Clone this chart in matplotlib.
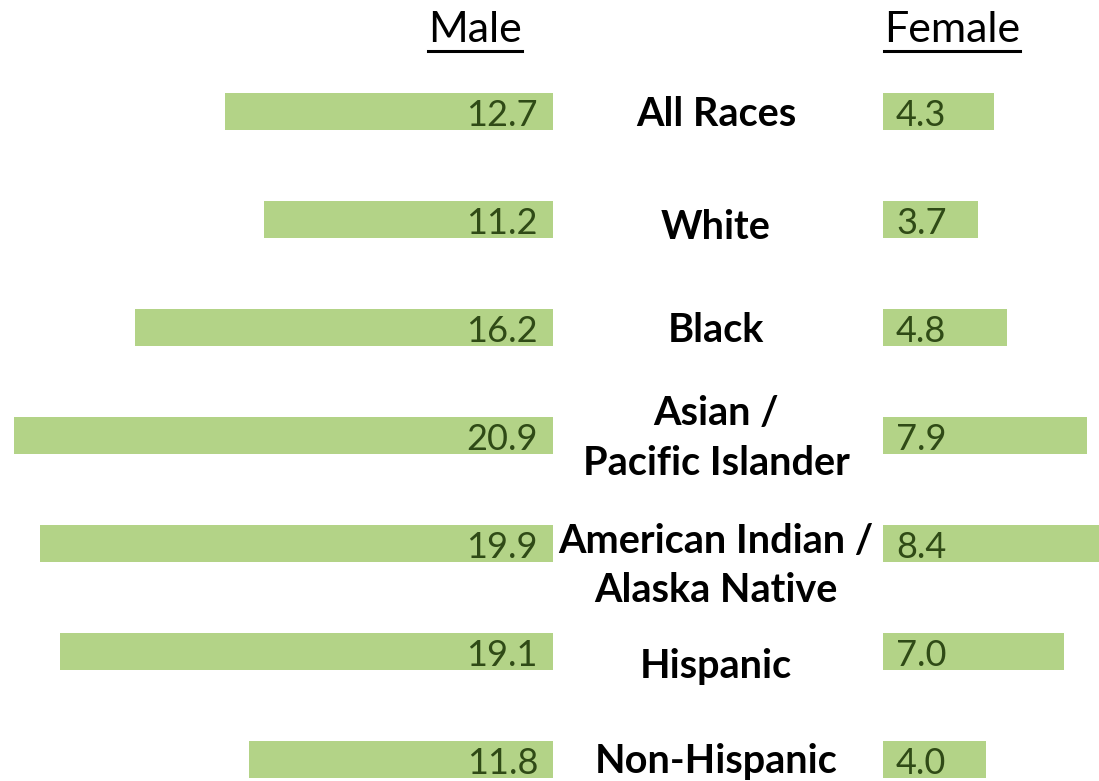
import matplotlib.pyplot as plt
import matplotlib.transforms as mtransforms
from matplotlib.lines import Line2D

# ------------------------------
# Data
# ------------------------------
groups = ["All Races", "White", "Black", "Asian /\nPacific Islander",
          "American Indian /\nAlaska Native", "Hispanic", "Non-Hispanic"]
male = [12.7, 11.2, 16.2, 20.9, 19.9, 19.1, 11.8]
female = [4.3, 3.7, 4.8, 7.9, 8.4, 7.0, 4.0]

bar_color = "#b3d387"
num_color = "#2f4a16"
font = "Lato"

W, H = 1099, 781
px_per_unit = 25.8

fig = plt.figure(figsize=(W / 100, H / 100), dpi=100)

# male axis grows to the left, female to the right
ax_m = fig.add_axes([0, 0, 553 / W, 1])
ax_f = fig.add_axes([883 / W, 0, (W - 883) / W, 1])
ax_m.set_xlim(553 / px_per_unit, 0)
ax_f.set_xlim(0, (W - 883) / px_per_unit)
for ax in (ax_m, ax_f):
    ax.set_ylim(6.199, -1.032)
    ax.axis("off")

ypos = list(range(len(groups)))
ax_m.barh(ypos, male, height=0.343, color=bar_color)
ax_f.barh(ypos, female, height=0.343, color=bar_color)

for y, v in zip(ypos, male):
    ax_m.annotate(f"{v:.1f}", xy=(0, y), xytext=(-15, -4), textcoords="offset pixels",
                  ha="right", va="center", fontsize=26, color=num_color, family=font)
for y, v in zip(ypos, female):
    ax_f.annotate(f"{v:.1f}", xy=(0, y), xytext=(13, -4), textcoords="offset pixels",
                  ha="left", va="center", fontsize=26, color=num_color, family=font)

# category labels sit in the gap between the two sides
trans = mtransforms.blended_transform_factory(fig.transFigure, ax_m.transData)
nudge = [0.03, 0.07, 0.03, 0.03, 0.21, 0.14, 0.02]
for y, name, dy in zip(ypos, groups, nudge):
    fig.text(716 / W, y + dy, name, transform=trans, ha="center", va="center",
             fontsize=28.5, fontweight="bold", family=font, linespacing=1.42)

# underlined headers
heads = []
for label, xc in [("Male", 475), ("Female", 952)]:
    t = fig.text(xc / W, 1 - 30 / H, label, ha="center", va="center",
                 fontsize=31, family=font)
    heads.append(t)

fig.canvas.draw()
renderer = fig.canvas.get_renderer()
for t in heads:
    bb = t.get_window_extent(renderer)
    y_line = (H - 51) / H
    fig.add_artist(Line2D([bb.x0 / W, bb.x1 / W], [y_line, y_line],
                          transform=fig.transFigure, color="black", linewidth=2.2))

fig.savefig("out.png", dpi=100)
